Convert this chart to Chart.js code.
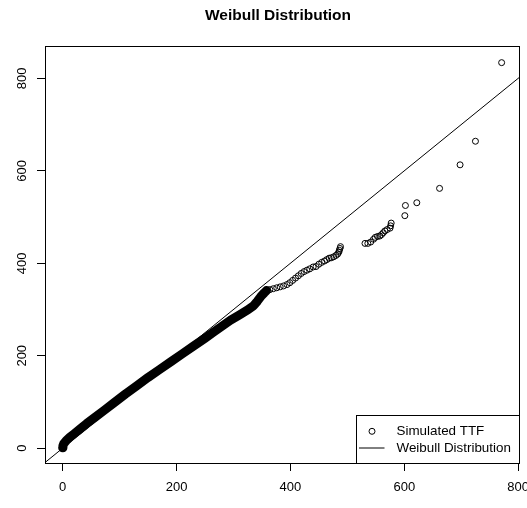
<!DOCTYPE html>
<html>
<head>
<meta charset="utf-8">
<script src="https://cdn.jsdelivr.net/npm/chart.js@4/dist/chart.umd.min.js"></script>
<style>
  html, body { margin: 0; padding: 0; background: #fff; }
  #wrap { width: 527px; height: 508px; }
</style>
</head>
<body>
<div id="wrap"><canvas id="myChart" width="527" height="508"></canvas></div>
<script>
// theoretical quantile (x) vs simulated TTF (y)
// lower part: points so packed they form a solid band
const denseX = [0, 0.5, 2, 6, 12, 20, 30, 42, 56, 72, 90, 110, 130, 150, 170, 190, 210, 230, 250, 265, 280, 295, 310, 325, 335, 342, 348, 354, 358];
const denseY = [1, 5, 10, 16, 23, 31, 41, 53, 66, 81, 98, 117, 135, 153, 170, 187, 204, 221, 238, 251, 264, 277, 288, 299, 308, 318, 328, 336, 341];

// upper tail: separate circles
const tailX = [358, 364, 370, 376, 382, 388, 394, 399, 404, 409, 414, 419, 424, 429, 434, 440, 445, 450, 455, 460,
               464, 468, 472, 476, 480, 483, 485, 486, 487, 488, 531, 536, 541, 546, 549, 553, 557, 560, 563, 566,
               570, 575, 576, 577, 601, 602, 622, 662, 698, 725, 771];
const tailY = [341, 343, 345, 347, 349, 351, 354, 358, 363, 368, 373, 378, 382, 385, 388, 392, 393, 398, 402, 405,
               408, 411, 412, 414, 417, 420, 424, 428, 432, 436, 443, 443, 446, 452, 456, 458, 459, 462, 466, 470,
               473, 476, 481, 487, 503, 525, 531, 562, 613, 664, 834];

// Weibull reference line (y = x)
const lineX = [-40, 900];
const lineY = [-40, 900];

const xTicks = [0, 200, 400, 600, 800];
const yTicks = [0, 200, 400, 600, 800];

const FONT = '"Liberation Sans", Arial, Helvetica, sans-serif';

const pts = (xs, ys) => xs.map((x, i) => ({ x: x, y: ys[i] }));

// R-like extras: box round the plot, rotated y labels, legend inside the plot
const rStyle = {
  id: 'rStyle',
  afterDraw(chart) {
    const { ctx, chartArea: a, scales } = chart;
    ctx.save();
    ctx.strokeStyle = '#000';
    ctx.lineWidth = 1;
    ctx.strokeRect(a.left + 0.5, a.top + 0.5, a.right - a.left, a.bottom - a.top);

    // y tick labels, parallel to the axis
    ctx.fillStyle = '#000';
    ctx.font = '13px ' + FONT;
    ctx.textAlign = 'center';
    ctx.textBaseline = 'middle';
    yTicks.forEach(v => {
      ctx.save();
      ctx.translate(a.left - 23, scales.y.getPixelForValue(v));
      ctx.rotate(-Math.PI / 2);
      ctx.fillText(String(v), 0, 0);
      ctx.restore();
    });

    // legend
    const lw = 163, lh = 48;
    const lx = a.right - lw, ly = a.bottom - lh;
    ctx.fillStyle = '#fff';
    ctx.fillRect(lx, ly, lw, lh);
    ctx.strokeRect(lx + 0.5, ly + 0.5, lw, lh);
    ctx.beginPath();
    ctx.arc(lx + 16, ly + 16.3, 3, 0, Math.PI * 2);
    ctx.stroke();
    ctx.beginPath();
    ctx.moveTo(lx + 3, ly + 33);
    ctx.lineTo(lx + 28.5, ly + 33);
    ctx.stroke();
    ctx.fillStyle = '#000';
    ctx.font = '13.4px ' + FONT;
    ctx.textAlign = 'left';
    ctx.fillText('Simulated TTF', lx + 40.5, ly + 16.5);
    ctx.fillText('Weibull Distribution', lx + 40.5, ly + 33);
    ctx.restore();
  }
};

new Chart(document.getElementById('myChart'), {
  type: 'scatter',
  data: {
    datasets: [
      {
        label: 'Weibull Distribution',
        data: pts(lineX, lineY),
        showLine: true,
        borderColor: '#000',
        borderWidth: 1,
        pointRadius: 0
      },
      {
        label: 'Simulated TTF (dense)',
        data: pts(denseX, denseY),
        showLine: true,
        borderColor: '#000',
        borderWidth: 9,
        borderCapStyle: 'round',
        borderJoinStyle: 'round',
        pointRadius: 0
      },
      {
        label: 'Simulated TTF',
        data: pts(tailX, tailY),
        pointStyle: 'circle',
        pointRadius: 3,
        borderWidth: 1,
        borderColor: '#000',
        backgroundColor: 'rgba(0,0,0,0)'
      }
    ]
  },
  options: {
    responsive: false,
    animation: false,
    events: [],
    layout: { padding: { left: 37, right: 8, top: 0, bottom: 3.4 } },
    plugins: {
      legend: { display: false },
      tooltip: { enabled: false },
      title: {
        display: true,
        text: 'Weibull Distribution',
        color: '#000',
        font: { family: FONT, size: 15.5, weight: 'bold', lineHeight: 1.2 },
        padding: { top: 6, bottom: 21.4 }
      }
    },
    scales: {
      x: {
        type: 'linear',
        min: -31,
        max: 801.5,
        afterBuildTicks: s => { s.ticks = xTicks.map(v => ({ value: v })); },
        afterFit: s => { s.paddingLeft = 0; s.paddingRight = 0; },
        grid: { drawOnChartArea: false, tickLength: 8, color: '#000', tickColor: '#000' },
        border: { display: false },
        ticks: { color: '#000', font: { family: FONT, size: 13 }, padding: 9, maxRotation: 0, autoSkip: false }
      },
      y: {
        type: 'linear',
        min: -32,
        max: 870,
        afterBuildTicks: s => { s.ticks = yTicks.map(v => ({ value: v })); },
        afterFit: s => { s.paddingTop = 0; s.paddingBottom = 0; },
        grid: { drawOnChartArea: false, tickLength: 8, color: '#000', tickColor: '#000' },
        border: { display: false },
        ticks: { display: false }
      }
    }
  },
  plugins: [rStyle]
});
</script>
</body>
</html>
